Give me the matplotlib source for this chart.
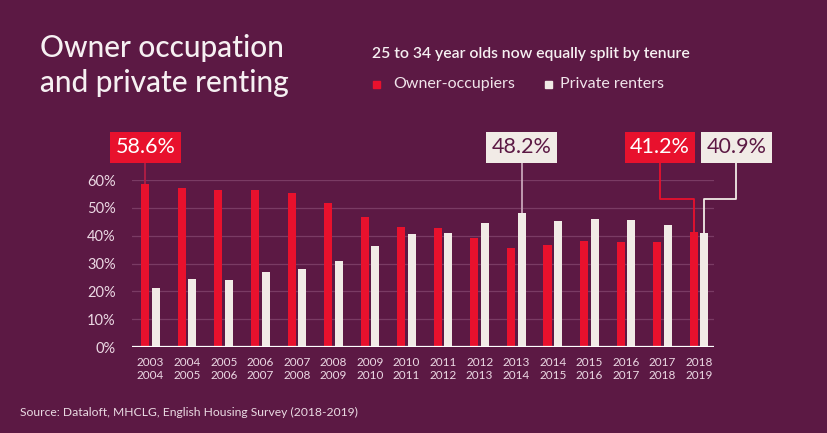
import numpy as np
import matplotlib.pyplot as plt

# English Housing Survey, 25-34 year olds by tenure (%)
years = ['2003\n2004', '2004\n2005', '2005\n2006', '2006\n2007', '2007\n2008',
         '2008\n2009', '2009\n2010', '2010\n2011', '2011\n2012', '2012\n2013',
         '2013\n2014', '2014\n2015', '2015\n2016', '2016\n2017', '2017\n2018',
         '2018\n2019']
owners = [58.6, 57.0, 56.3, 56.6, 55.3, 51.6, 46.6, 43.3, 42.8, 39.3, 35.6,
          36.8, 38.1, 37.6, 37.6, 41.2]
renters = [21.3, 24.5, 24.1, 26.9, 27.9, 31.0, 36.2, 40.5, 40.8, 44.5, 48.2,
           45.4, 46.1, 45.5, 43.7, 40.9]
yticks = [0, 10, 20, 30, 40, 50, 60]

bg = '#5c1944'
red = '#e8112d'
cream = '#f1ebe6'
light = '#ecd9e4'

plt.rcParams['font.family'] = ['Lato', 'DejaVu Sans']

fig = plt.figure(figsize=(8.27, 4.33), dpi=100, facecolor=bg)
ax = fig.add_axes([0.160, 0.1986, 0.703, 0.3856])
ax.set_facecolor(bg)

x = np.arange(len(years))
off = 0.145
w = 0.22
ax.bar(x - off, owners, w, color=red, zorder=3)
ax.bar(x + off, renters, w, color=cream, zorder=3)

ax.set_xlim(-0.5, 15.4)
ax.set_ylim(0, 60)
ax.set_yticks(yticks)
ax.set_yticklabels([f'{t}%' for t in yticks], color=light, fontsize=10.5)
ax.set_xticks(x)
ax.set_xticklabels(years, color=light, fontsize=8.5, linespacing=1.3)
ax.tick_params(length=0, pad=12, axis='y')
ax.tick_params(length=0, pad=7, axis='x')
for t in yticks[1:]:
    ax.axhline(t, color='#7a3b64', lw=0.9, zorder=1)
ax.axhline(0, color='white', lw=1.6, zorder=4)
for s in ax.spines.values():
    s.set_visible(False)

# callouts
box_y = 71.7
line_top = 66.5
elbow = 53.2


def callout(xb, val, text, fc, tc, lc, xl=None):
    if xl is None:
        ax.plot([xb, xb], [line_top, val], color=lc, lw=1.3, clip_on=False, zorder=2)
        xt = xb
    else:
        ax.plot([xl, xl, xb, xb], [line_top, elbow, elbow, val], color=lc, lw=1.3,
                clip_on=False, zorder=5)
        xt = xl
    ax.text(xt, box_y, text, ha='center', va='center', fontsize=15.5, color=tc,
            bbox=dict(boxstyle='square,pad=0.25', fc=fc, ec='none'), zorder=6)


callout(0 - off, owners[0], '58.6%', red, 'white', '#b31e45')
callout(10 + off, renters[10], '48.2%', cream, bg, '#c8a5b9')
callout(15 - off, owners[15], '41.2%', red, 'white', red, xl=13.93)
callout(15 + off, renters[15], '40.9%', cream, bg, cream, xl=16.02)

# titles
fig.text(40 / 827, 1 - 48 / 433, 'Owner occupation', fontsize=21.5, color='#f6f0f2',
         fontweight='medium', va='center')
fig.text(40 / 827, 1 - 83 / 433, 'and private renting', fontsize=21.5, color='#f6f0f2',
         fontweight='medium', va='center')
fig.text(372 / 827, 1 - 54 / 433, '25 to 34 year olds now equally split by tenure',
         fontsize=11.3, color='#f6f0f2', fontweight='semibold', va='center')

fig.patches.append(plt.Rectangle((373 / 827, 1 - 88 / 433), 7 / 827, 7 / 433,
                                 transform=fig.transFigure, color=red))
fig.text(393 / 827, 1 - 84 / 433, 'Owner-occupiers', fontsize=11.5, color='#f0e4ea',
         va='center')
fig.patches.append(plt.Rectangle((545 / 827, 1 - 88 / 433), 7 / 827, 7 / 433,
                                 transform=fig.transFigure, color=cream))
fig.text(560 / 827, 1 - 84 / 433, 'Private renters', fontsize=11.5, color='#f0e4ea',
         va='center')

fig.text(20 / 827, 1 - 412 / 433,
         'Source: Dataloft, MHCLG, English Housing Survey (2018-2019)',
         fontsize=8.7, color='#eadbe3', va='center')

fig.savefig('out.png', dpi=100, facecolor=bg)
